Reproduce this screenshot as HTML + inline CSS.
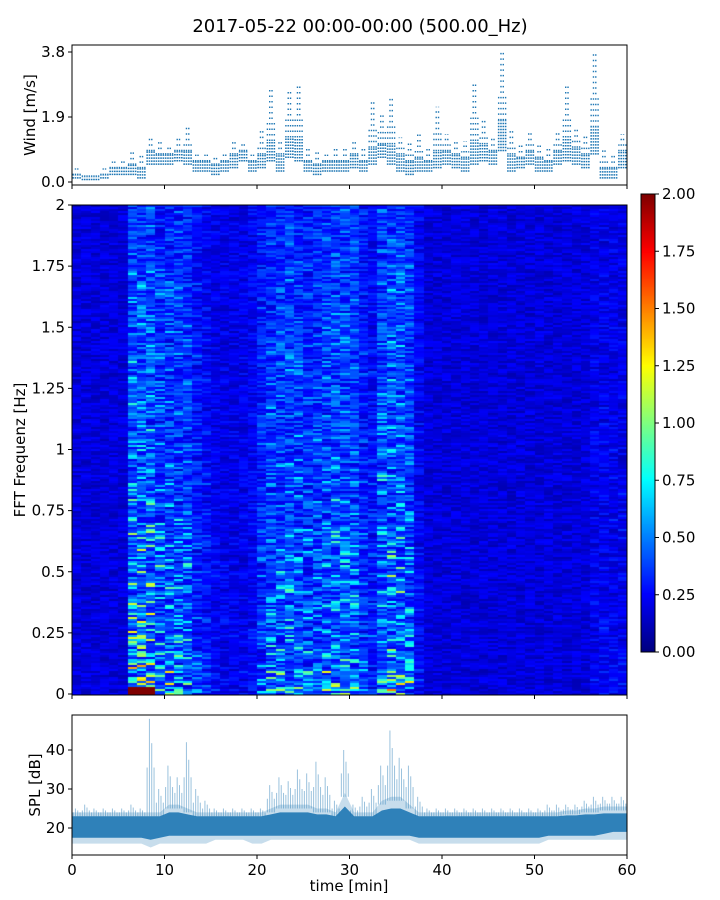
<!DOCTYPE html>
<html><head><meta charset="utf-8">
<style>
body{margin:0;background:#fff;font-family:"DejaVu Sans","Liberation Sans",sans-serif;}
#wrap{position:relative;width:720px;height:900px;overflow:hidden;}
svg{position:absolute;left:0;top:0;}
canvas{position:absolute;}
text{font-family:"DejaVu Sans","Liberation Sans",sans-serif;fill:#000;}
</style></head>
<body>
<div id="wrap">
<canvas id="spec" width="555" height="490" style="left:72px;top:205px"></canvas>
<canvas id="cbar" width="14" height="458" style="left:641px;top:194px"></canvas>
<svg id="svg" width="720" height="900"></svg>
</div>
<script>
// ---- data ----
const minutes = [];
for (let i = 0; i < 60; i++) minutes.push(i);
const windLo = [0.1,0.05,0.05,0.1,0.2,0.2,0.2,0.1,0.5,0.5,0.5,0.6,0.5,0.3,0.3,0.2,0.3,0.4,0.6,0.3,0.4,0.6,0.3,0.7,0.6,0.3,0.2,0.3,0.3,0.3,0.4,0.3,0.5,0.7,0.5,0.3,0.2,0.3,0.3,0.4,0.5,0.4,0.3,0.5,0.6,0.5,0.9,0.3,0.4,0.5,0.3,0.3,0.5,0.6,0.5,0.4,0.8,0.1,0.1,0.4];
const windMid = [0.2,0.15,0.15,0.2,0.4,0.4,0.5,0.4,0.9,0.8,0.8,0.9,0.9,0.6,0.6,0.5,0.6,0.8,0.9,0.6,0.8,1.2,0.8,1.3,1.3,0.6,0.5,0.6,0.6,0.6,0.8,0.6,1.0,1.1,1.1,0.8,0.6,0.7,0.6,0.9,0.9,0.8,0.7,1.2,1.1,0.9,1.8,0.8,0.7,0.9,0.7,0.6,0.9,1.3,1.0,0.8,1.6,0.4,0.4,0.9];
const windHi = [0.4,0.3,0.3,0.4,0.6,0.7,0.9,0.8,1.3,1.2,1.1,1.3,1.6,0.8,0.8,0.8,0.9,1.2,1.2,0.8,1.5,2.7,1.2,2.7,2.8,1.0,0.9,0.8,1.0,1.0,1.2,1.0,2.4,2.0,2.5,1.3,1.2,1.5,1.0,2.2,1.4,1.2,1.2,2.9,1.8,1.3,3.8,1.5,1.1,1.5,1.1,1.0,1.5,2.8,1.6,1.4,3.8,1.0,0.8,1.4];
const windTicks = [0.0, 1.9, 3.8];
const specLevel = [0.09,0.09,0.09,0.09,0.09,0.09,0.16,0.16,0.16,0.14,0.14,0.14,0.14,0.12,0.11,0.1,0.1,0.1,0.1,0.11,0.13,0.15,0.15,0.16,0.15,0.14,0.14,0.15,0.16,0.16,0.15,0.13,0.12,0.16,0.16,0.16,0.15,0.11,0.09,0.09,0.09,0.09,0.09,0.09,0.09,0.09,0.09,0.09,0.09,0.09,0.09,0.09,0.09,0.09,0.09,0.09,0.1,0.1,0.1,0.1];
const specBurst = [0,0,0,0,0,0,0.45,0.45,0.45,0.35,0.35,0.3,0.3,0.15,0.1,0.05,0.03,0.03,0.03,0.05,0.15,0.25,0.25,0.28,0.25,0.22,0.25,0.28,0.3,0.3,0.28,0.15,0.1,0.35,0.38,0.38,0.3,0.05,0,0,0,0,0,0,0,0,0,0,0,0,0,0,0,0,0,0,0.03,0.05,0.05,0.05];
const freqProfile = [1.6,1.2,1.1,0.9,1.0,0.95,0.85,0.75,0.7,0.6,0.65,0.55,0.5,0.5,0.45,0.4,0.4,0.35,0.3,0.3];
const freqTicks = [0,0.25,0.5,0.75,1,1.25,1.5,1.75,2];
const freqTickLabels = ["0","0.25","0.5","0.75","1","1.25","1.5","1.75","2"];
const cbarTicks = ["0.00","0.25","0.50","0.75","1.00","1.25","1.50","1.75","2.00"];
const splLo = [16,16,16,16,16,16,16,16,15,16,16,16,16,16,16,17,17,17,17,16,16,17,17,17,17,17,17,17,17,17,17,17,17,17,17,17,17,16,16,16,16,16,16,16,16,16,16,16,16,16,16,17,17,17,17,17,17,17,17,17];
const splCoreLo = [17.5,17.5,17.5,17.5,17.5,17.5,17.5,17.5,17,17.5,18,18,18,18,18,18,18,18,18,18,18,18,18,18,18,18,18,18,18,18,18,18,18,18,18,18,18,17.5,17.5,17.5,17.5,17.5,17.5,17.5,17.5,17.5,17.5,17.5,17.5,17.5,17.5,18,18,18,18,18,18,18.5,19,19];
const splCoreHi = [23,23,23,23,23,23,23,23,23,23,25,25,24,23,23,23,23,23,23,23,23,24,25,25,25,25,24,24,23,28,23,23,23,26,27,27,25,23,23,23,23,23,23,23,23,23,23,23,23,23,23,23,23,23.5,23.5,24,24,24.5,24.5,24.5];
const splHi = [25,26,25,25,25,25,26,25,48,30,36,33,42,30,27,25,25,25,25,25,25,31,33,32,35,34,37,33,27,40,26,28,30,36,45,38,36,28,25,25,25,25,25,25,25,25,25,25,25,25,25,26,26,26,26,27,28,28,28,28];
const splTicks = [20,30,40];
const xTicks = [0,10,20,30,40,50,60];

// ---- axes ----
const X0=72, X1=627;
const xs = m => X0 + (m/60)*(X1-X0);
const wy = v => 182 - v*(65/1.9);
const fy = f => 694 - f*(489/2);
const sy = v => 828 - (v-20)*3.9;

const NS="http://www.w3.org/2000/svg";
const svg=document.getElementById('svg');
function mk(tag, attrs, parent){const e=document.createElementNS(NS,tag);for(const k in attrs)e.setAttribute(k,attrs[k]);(parent||svg).appendChild(e);return e;}
function txt(x,y,s,anchor,size,parent){const t=mk('text',{x:x,y:y,'text-anchor':anchor,'font-size':size||15},parent);t.textContent=s;return t;}

const title=txt(360,32,"2017-05-22 00:00-00:00 (500.00_Hz)","middle",18);



// ---- wind panel ----
const gW=mk('g',{});


for(let i=0;i<minutes.length;i++){
  for(let k=0;k<4;k++){
    const x=xs(minutes[i]+0.125+k*0.25);
    const hi=(k===1||k===2)?windHi[i]:windMid[i]+(windHi[i]-windMid[i])*0.4;
    const l1=mk('line',{x1:x,x2:x,y1:wy(windLo[i]),y2:wy(windMid[i]),stroke:'#1f77b4','stroke-width':1.6,'stroke-dasharray':'1.5 1.5'},gW);
    
    
    const l2=mk('line',{x1:x,x2:x,y1:wy(windMid[i]),y2:wy(hi),stroke:'#1f77b4','stroke-width':1.4,'stroke-dasharray':'1.5 4'},gW);
    
    
  }
}
const wf=mk('rect',{x:72,y:45,width:555,height:140,fill:'none',stroke:'#000','stroke-width':1});


windTicks.forEach(v=>{mk('line',{x1:68,x2:72,y1:wy(v),y2:wy(v),stroke:'#000'});const t=txt(65,wy(v)+5,v.toFixed(1),"end",15);});
xTicks.forEach(v=>mk('line',{x1:xs(v),x2:xs(v),y1:185,y2:189,stroke:'#000'}));
const wl=txt(0,0,"Wind [m/s]","middle",15);wl.setAttribute('transform','translate(35,115) rotate(-90)');



// ---- spectrogram ----
function jet(v){v=Math.max(0,Math.min(1,v));
  const r=Math.max(0,Math.min(1,1.5-Math.abs(4*v-3))),g=Math.max(0,Math.min(1,1.5-Math.abs(4*v-2))),b=Math.max(0,Math.min(1,1.5-Math.abs(4*v-1)));
  return [r*255|0,g*255|0,b*255|0];}
function hash(a,b){let h=(a*374761393+b*668265263)>>>0;h=((h^(h>>>13))*1274126177)>>>0;return ((h^(h>>>16))>>>0)/4294967296;}
const sc=document.getElementById('spec').getContext('2d');
const rowH=2;
for(let i=0;i<specLevel.length;i++){
  const x0=Math.round(xs(minutes[i])-X0), x1=Math.round(xs(minutes[i]+1)-X0);
  for(let r=0;r<490/rowH;r++){
    const f=2-(r+0.5)*rowH/245;
    const band=Math.min(freqProfile.length-1,Math.floor(f/2*freqProfile.length));
    const h1=hash(i,r), h2=hash(r+7,i*3+1);
    let v=specLevel[i]*(0.55+0.9*h1)+specBurst[i]*freqProfile[band]*h2*h2*h2;
    if(f<0.035 && specBurst[i]>0.4) v=1.0;
    const c=jet(v);
    sc.fillStyle=`rgb(${c[0]},${c[1]},${c[2]})`;
    sc.fillRect(x0,r*rowH,x1-x0,rowH);
  }
}
const sf=mk('rect',{x:72,y:205,width:555,height:490,fill:'none',stroke:'#000','stroke-width':1});


freqTicks.forEach((f,i)=>{mk('line',{x1:68,x2:72,y1:fy(f),y2:fy(f),stroke:'#000'});const t=txt(65,fy(f)+5,freqTickLabels[i],"end",15);});
xTicks.forEach(v=>mk('line',{x1:xs(v),x2:xs(v),y1:695,y2:699,stroke:'#000'}));
const fl=txt(0,0,"FFT Frequenz [Hz]","middle",15);fl.setAttribute('transform','translate(25,450) rotate(-90)');



// colorbar
const cc=document.getElementById('cbar').getContext('2d');
for(let y=0;y<458;y++){const c=jet(1-y/457);cc.fillStyle=`rgb(${c[0]},${c[1]},${c[2]})`;cc.fillRect(0,y,14,1);}
mk('rect',{x:641,y:194,width:14,height:458,fill:'none',stroke:'#000','stroke-width':1});
cbarTicks.forEach((s,i)=>{const y=652-i*458/8;mk('line',{x1:655,x2:659,y1:y,y2:y,stroke:'#000'});const t=txt(662,y+5,s,"start",15);});

// ---- SPL panel ----
const gS=mk('g',{});


function band(lo,hi,fill,op,name){
  let d='M'+xs(0)+','+sy(hi[0]);
  for(let i=0;i<minutes.length;i++){d+=' L'+xs(minutes[i]+0.5)+','+sy(hi[i]);}
  d+=' L'+xs(60)+','+sy(hi[hi.length-1]);
  d+=' L'+xs(60)+','+sy(lo[lo.length-1]);
  for(let i=minutes.length-1;i>=0;i--){d+=' L'+xs(minutes[i]+0.5)+','+sy(lo[i]);}
  d+=' L'+xs(0)+','+sy(lo[0])+' Z';
  const p=mk('path',{d:d,fill:fill,'fill-opacity':op},gS);
  
  
}
band(splLo,splCoreHi.map(v=>v+1),'#1f77b4',0.25,'spl-outer-band');
for(let i=0;i<minutes.length;i++){
  for(let k=0;k<4;k++){
    const x=xs(minutes[i]+0.12+k*0.25);
    const h=splCoreHi[i]+(splHi[i]-splCoreHi[i])*(k===1?1:(k===2?0.75:0.5));
    const l=mk('line',{x1:x,x2:x,y1:sy(splCoreHi[i]),y2:sy(h),stroke:'#1f77b4','stroke-width':1,'stroke-opacity':0.45},gS);
    
    
  }
}
band(splCoreLo,splCoreHi.map(v=>Math.min(v,23)+(v>23?(v-23)*0.5:0)),'#1f77b4',0.9,'spl-core-band');
const pf=mk('rect',{x:72,y:715,width:555,height:140,fill:'none',stroke:'#000','stroke-width':1});


splTicks.forEach(v=>{mk('line',{x1:68,x2:72,y1:sy(v),y2:sy(v),stroke:'#000'});const t=txt(65,sy(v)+5,String(v),"end",15);});
xTicks.forEach(v=>{mk('line',{x1:xs(v),x2:xs(v),y1:855,y2:859,stroke:'#000'});const t=txt(xs(v),875,String(v),"middle",15);});
const sl=txt(0,0,"SPL [dB]","middle",15);sl.setAttribute('transform','translate(40,785) rotate(-90)');


const xl=txt(349,891,"time [min]","middle",15);


</script>
</body></html>
